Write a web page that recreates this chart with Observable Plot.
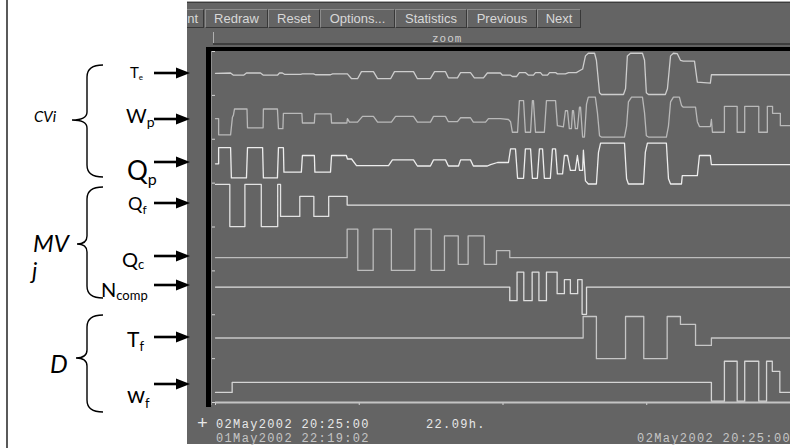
<!DOCTYPE html>
<html><head><meta charset="utf-8">
<script src="https://cdn.jsdelivr.net/npm/d3@7"></script>
<script src="https://cdn.jsdelivr.net/npm/@observablehq/plot@0.6"></script>
<style>
body{margin:0;background:#fff;}
#wrap{position:relative;width:790px;height:448px;overflow:hidden;background:#fff;}
#panel{position:absolute;left:187px;top:1px;width:603px;height:443px;background:#646464;border-top:1px solid #a8a8a8;box-sizing:border-box;overflow:hidden;}
#panel .topline{position:absolute;left:0;top:0;width:100%;height:1px;background:#3c3c3c;}
.btn{position:absolute;top:7px;height:19px;border:1px solid;border-color:#8c8c8c #383838 #383838 #8c8c8c;color:#d8d8d8;font:13px "Liberation Sans",Arial,sans-serif;line-height:17px;text-align:center;box-sizing:border-box;white-space:nowrap;}
#zoomlbl{position:absolute;left:245px;top:31px;font:11px "Liberation Mono",monospace;letter-spacing:1px;color:#cfcfcf;}
#slider{position:absolute;left:26px;top:41px;width:580px;height:2px;background:#3e3e3e;}
#slidetick{position:absolute;left:26px;top:30px;width:1px;height:13px;background:#b0b0b0;}
#topbar{position:absolute;left:19px;top:45px;width:600px;height:4px;background:#000;}
#leftbar{position:absolute;left:19px;top:45px;width:5px;height:360px;background:#000;}
#axisline{position:absolute;left:24px;top:49px;width:1px;height:354px;background:#8e8e8e;}
#chart{position:absolute;left:187px;top:0;}
#notes{position:absolute;left:0;top:0;}
</style></head>
<body><div id="wrap">
<div id="panel">
  <div class="topline"></div>
  <div class="btn" style="left:-4px;width:21px;text-align:right;padding-right:5px">nt</div>
  <div class="btn" style="left:18px;width:63px">Redraw</div>
  <div class="btn" style="left:81px;width:52px">Reset</div>
  <div class="btn" style="left:133px;width:75px">Options...</div>
  <div class="btn" style="left:208px;width:72px">Statistics</div>
  <div class="btn" style="left:280px;width:70px">Previous</div>
  <div class="btn" style="left:350px;width:44px">Next</div>
  <div id="zoomlbl">zoom</div>
  <div id="slidetick"></div>
  <div id="slider"></div>
  <div id="topbar"></div>
  <div id="leftbar"></div>
  <div id="axisline"></div>
</div>
<div id="chart"></div>
<svg id="notes" width="790" height="448" xmlns="http://www.w3.org/2000/svg"></svg>
</div>
<script>
// ---- data: time in hours from 01May2002 22:19:02, level in band units (bands 0..8) ----
const seriesNames = ["Te", "Wp", "Qp", "Qf", "Qc", "Ncomp", "Tf", "wf"];
const Te = [[0,7.50],[0.58,7.51],[0.69,7.46],[1.08,7.46],[1.19,7.51],[1.73,7.51],[1.84,7.46],[2.38,7.46],[2.46,7.51],[2.57,7.51],[2.65,7.48],[3.27,7.48],[3.34,7.49],[3.77,7.49],[3.84,7.47],[4.42,7.47],[4.50,7.49],[5.07,7.49],[5.23,7.38],[5.46,7.38],[5.61,7.54],[6.07,7.54],[6.23,7.38],[6.73,7.38],[6.88,7.54],[7.61,7.54],[7.76,7.38],[8.26,7.38],[8.42,7.54],[8.84,7.54],[8.95,7.40],[9.30,7.40],[9.42,7.52],[9.80,7.52],[9.95,7.40],[10.30,7.40],[10.45,7.51],[10.95,7.51],[11.03,7.46],[11.34,7.46],[11.41,7.43],[11.57,7.43],[11.68,7.52],[11.91,7.52],[12.03,7.46],[12.22,7.46],[12.30,7.52],[12.49,7.52],[12.57,7.46],[12.76,7.46],[12.84,7.52],[13.07,7.52],[13.14,7.49],[13.45,7.49],[13.57,7.52],[13.87,7.52],[13.99,7.56],[14.11,7.60],[14.22,7.90],[14.33,7.96],[14.57,7.96],[14.64,7.80],[14.76,7.06],[14.83,7.02],[15.68,7.02],[15.76,7.15],[15.83,7.90],[15.95,7.96],[16.41,7.96],[16.49,7.80],[16.56,7.06],[16.64,7.02],[17.29,7.02],[17.37,7.15],[17.49,7.90],[17.60,7.96],[17.75,7.95],[17.87,7.80],[17.98,7.78],[18.41,7.78],[18.52,7.30],[19.02,7.28],[19.06,7.47],[22.10,7.47]];
const Wp = [[0,6.47],[0.12,6.47],[0.12,6.10],[0.58,6.10],[0.65,6.50],[0.69,6.55],[0.73,6.69],[1.21,6.69],[1.23,6.26],[1.83,6.26],[1.84,6.69],[2.38,6.69],[2.42,6.24],[2.59,6.24],[2.61,6.59],[3.32,6.59],[3.34,6.37],[3.80,6.37],[3.82,6.58],[4.44,6.58],[4.46,6.37],[5.05,6.37],[5.07,6.47],[5.15,6.39],[5.46,6.39],[5.65,6.52],[6.07,6.52],[6.23,6.39],[6.76,6.39],[6.92,6.52],[7.61,6.52],[7.76,6.39],[8.26,6.39],[8.38,6.52],[8.84,6.52],[8.95,6.40],[9.30,6.40],[9.42,6.49],[9.80,6.49],[9.91,6.39],[10.38,6.39],[10.49,6.47],[10.95,6.47],[11.26,6.45],[11.34,6.40],[11.41,6.16],[11.61,6.16],[11.68,6.88],[11.84,6.88],[11.91,6.16],[12.11,6.16],[12.18,6.88],[12.22,6.88],[12.30,6.16],[12.64,6.16],[12.72,6.88],[13.07,6.88],[13.14,6.31],[13.37,6.28],[13.45,6.65],[13.53,6.65],[13.60,6.24],[13.68,6.24],[13.72,6.65],[13.76,6.65],[13.83,6.24],[13.91,6.24],[13.99,6.73],[14.03,6.73],[14.11,6.05],[14.18,6.05],[14.26,6.80],[14.33,6.96],[14.60,6.96],[14.68,6.60],[14.76,6.08],[14.83,6.05],[15.72,6.05],[15.80,6.30],[15.87,6.85],[15.99,6.96],[16.41,6.96],[16.49,6.60],[16.56,6.08],[16.64,6.05],[17.33,6.05],[17.41,6.30],[17.49,6.85],[17.60,6.96],[17.83,6.96],[17.91,6.77],[17.98,6.73],[18.45,6.73],[18.52,6.40],[18.60,6.29],[19.02,6.29],[19.06,6.45],[19.10,6.16],[19.56,6.16],[19.56,6.75],[20.05,6.75],[20.05,6.16],[20.34,6.16],[20.34,6.75],[20.88,6.75],[20.88,6.16],[21.21,6.16],[21.21,6.75],[21.41,6.75],[21.41,6.59],[21.71,6.59],[21.71,6.31],[22.10,6.31]];
const Qp = [[0,5.44],[0.12,5.44],[0.12,5.81],[0.58,5.81],[0.61,5.12],[1.19,5.12],[1.23,5.81],[1.81,5.81],[1.84,5.12],[2.38,5.12],[2.42,5.81],[2.61,5.81],[2.63,5.25],[3.30,5.25],[3.34,5.63],[3.80,5.63],[3.82,5.25],[4.42,5.25],[4.46,5.63],[5.03,5.63],[5.07,5.55],[5.23,5.55],[5.42,5.40],[6.65,5.40],[6.80,5.53],[7.61,5.53],[7.76,5.39],[8.26,5.39],[8.38,5.53],[8.84,5.53],[8.95,5.39],[9.34,5.39],[9.42,5.53],[9.80,5.53],[9.91,5.39],[10.45,5.39],[10.57,5.42],[10.84,5.47],[11.26,5.47],[11.34,5.78],[11.53,5.78],[11.61,5.11],[11.84,5.11],[11.91,5.78],[12.11,5.78],[12.18,5.11],[12.37,5.11],[12.45,5.78],[12.57,5.78],[12.64,5.11],[12.87,5.11],[12.95,5.78],[13.07,5.78],[13.14,5.21],[13.34,5.21],[13.41,5.63],[13.53,5.63],[13.64,5.29],[13.83,5.29],[13.91,5.63],[13.99,5.29],[14.11,5.29],[14.14,5.75],[14.22,5.05],[14.33,4.98],[14.64,4.98],[14.72,5.70],[14.80,5.91],[15.72,5.91],[15.80,5.10],[15.87,4.98],[16.45,4.98],[16.52,5.70],[16.60,5.91],[17.33,5.91],[17.41,5.10],[17.49,4.98],[17.91,4.98],[17.94,5.17],[18.52,5.17],[18.60,5.63],[19.02,5.63],[19.06,5.42],[22.10,5.42]];
const Qf = [[0,4.97],[0.55,4.01],[1.13,4.97],[1.76,4.01],[2.39,4.97],[2.50,4.24],[3.24,4.70],[3.78,4.24],[4.35,4.70],[5.06,4.50],[22.10,4.50]];
const Qc = [[0,3.30],[5.06,3.95],[5.47,3.01],[6.06,3.95],[6.76,3.01],[7.66,3.95],[8.29,3.01],[8.80,3.80],[9.33,3.15],[9.71,3.80],[10.33,3.15],[10.80,3.46],[11.31,3.30],[22.10,3.30]];
const Ncomp = [[0,2.63],[11.31,2.32],[11.59,2.97],[11.85,2.32],[12.17,2.97],[12.43,2.32],[12.72,2.97],[13.13,2.48],[13.41,2.80],[13.64,2.48],[13.92,2.80],[14.09,2.01],[14.26,2.63],[22.10,2.63]];
const Tf = [[0,1.47],[14.13,1.96],[14.64,1.00],[15.76,1.96],[16.46,1.00],[17.36,1.96],[17.87,1.78],[18.45,1.30],[19.06,1.47],[22.10,1.47]];
const wf = [[0,0.23],[0.64,0.46],[19.06,0.03],[19.56,0.94],[20.05,0.03],[20.34,0.94],[20.88,0.03],[21.18,0.94],[21.40,0.71],[21.69,0.23],[22.10,0.23]];
const xTicks = [0, 5.525, 11.05, 16.575];
const yTicks = [0, 1, 2, 3, 4, 5, 6, 7, 8];
const startLabel = "01May2002 22:19:02";
const endLabel = "02May2002 20:25:00";
const cursorLabel = "02May2002 20:25:00";
const spanLabel = "22.09h.";

const chart = Plot.plot({
  width: 603, height: 448,
  marginLeft: 28, marginRight: 0, marginTop: 51, marginBottom: 46,
  style: {background: "transparent", color: "#d4d4d4", overflow: "visible"},
  x: {domain: [0, 22.1], ticks: xTicks, tickFormat: () => "", tickSize: 3, label: null},
  y: {domain: [0, 8], ticks: yTicks, tickFormat: () => "", tickSize: 3, label: null},
  marks: [
    Plot.ruleY([0], {stroke: "#c4c4c4", strokeWidth: 2}),
    Plot.line(Te, {stroke: "#cdcdcd", strokeWidth: 1.3}),
    Plot.line(Wp, {stroke: "#b9b9b9", strokeWidth: 1.3}),
    Plot.line(Qp, {stroke: "#ededed", strokeWidth: 1.3}),
    Plot.line(Qf, {stroke: "#e2e2e2", strokeWidth: 1.3, curve: "step-after"}),
    Plot.line(Qc, {stroke: "#bdbdbd", strokeWidth: 1.3, curve: "step-after"}),
    Plot.line(Ncomp, {stroke: "#dedede", strokeWidth: 1.3, curve: "step-after"}),
    Plot.line(Tf, {stroke: "#c6c6c6", strokeWidth: 1.3, curve: "step-after"}),
    Plot.line(wf, {stroke: "#d4d4d4", strokeWidth: 1.3, curve: "step-after"})
  ]
});
document.getElementById("chart").appendChild(chart);

// ---- annotations (left labels, braces, arrows, time labels) ----
const ns = "http://www.w3.org/2000/svg";
const notes = document.getElementById("notes");
function el(tag, attrs, parent) {
  const e = document.createElementNS(ns, tag);
  for (const k in attrs) e.setAttribute(k, attrs[k]);
  (parent || notes).appendChild(e);
  return e;
}
el("line", {x1: 7, y1: 0, x2: 7, y2: 448, stroke: "#000", "stroke-width": 1.3});
function brace(xEnd, xv, xTip, yTop, yMid, yBot) {
  const r = 12;
  const d = `M${xEnd},${yTop} Q${xv},${yTop} ${xv},${yTop + r} L${xv},${yMid - 8} Q${xv},${yMid} ${xTip},${yMid} Q${xv},${yMid} ${xv},${yMid + 8} L${xv},${yBot - r} Q${xv},${yBot} ${xEnd},${yBot}`;
  el("path", {d, fill: "none", stroke: "#000", "stroke-width": 1.4});
}
brace(103, 87, 72, 65, 120, 177);
brace(103, 87, 77, 187, 244, 298);
brace(103, 87, 76, 315, 358, 412);
const arrowYs = [73, 119, 162, 203, 256, 285, 337, 384];
for (const y of arrowYs) {
  el("line", {x1: 154, y1: y, x2: 178, y2: y, stroke: "#000", "stroke-width": 2.6});
  el("path", {d: `M176,${y - 5.5} L190,${y} L176,${y + 5.5} Z`, fill: "#000"});
}
function label(x, y, size, main, sub, subSize, dy, italic) {
  const t = el("text", {x, y, "font-family": "Lato, 'Open Sans', sans-serif", "font-size": size, fill: "#000", "font-style": italic ? "italic" : "normal"});
  t.appendChild(document.createTextNode(main));
  if (sub) {
    const s = el("tspan", {"font-size": subSize, dy}, t);
    s.textContent = sub;
  }
}
label(130, 78, 15, "T", "e", 8, 2);
label(126, 123, 20, "W", "p", 14, 4);
label(127, 180, 26, "Q", "p", 16, 5);
label(128, 210, 18, "Q", "f", 12, 4);
label(122, 267, 20, "Q", "c", 13, 2);
label(101, 297, 20, "N", "comp", 13, 3);
label(127, 347, 21, "T", "f", 13, 4);
label(127, 403, 23, "w", "f", 13, 5);
label(34, 122, 15, "CVi", null, 0, 0, true);
label(33, 252, 24, "MV", null, 0, 0, true);
label(32, 279, 23, "j", null, 0, 0, true);
label(50, 373, 25, "D", null, 0, 0, true);

function mono(x, y, txt, color, anchor, size) {
  const t = el("text", {x, y, "font-family": "'Liberation Mono', monospace", "font-size": size || 12, "letter-spacing": size ? 0 : 1.35, fill: color, "text-anchor": anchor || "start"});
  t.textContent = txt;
}
mono(197, 429, "+", "#e8e8e8", "start", 18);
mono(216, 428, cursorLabel, "#e8e8e8");
mono(426, 428, spanLabel, "#e8e8e8");
mono(216, 442, startLabel, "#c4c4c4");
mono(791, 442, endLabel, "#c4c4c4", "end");
</script>
</body></html>
